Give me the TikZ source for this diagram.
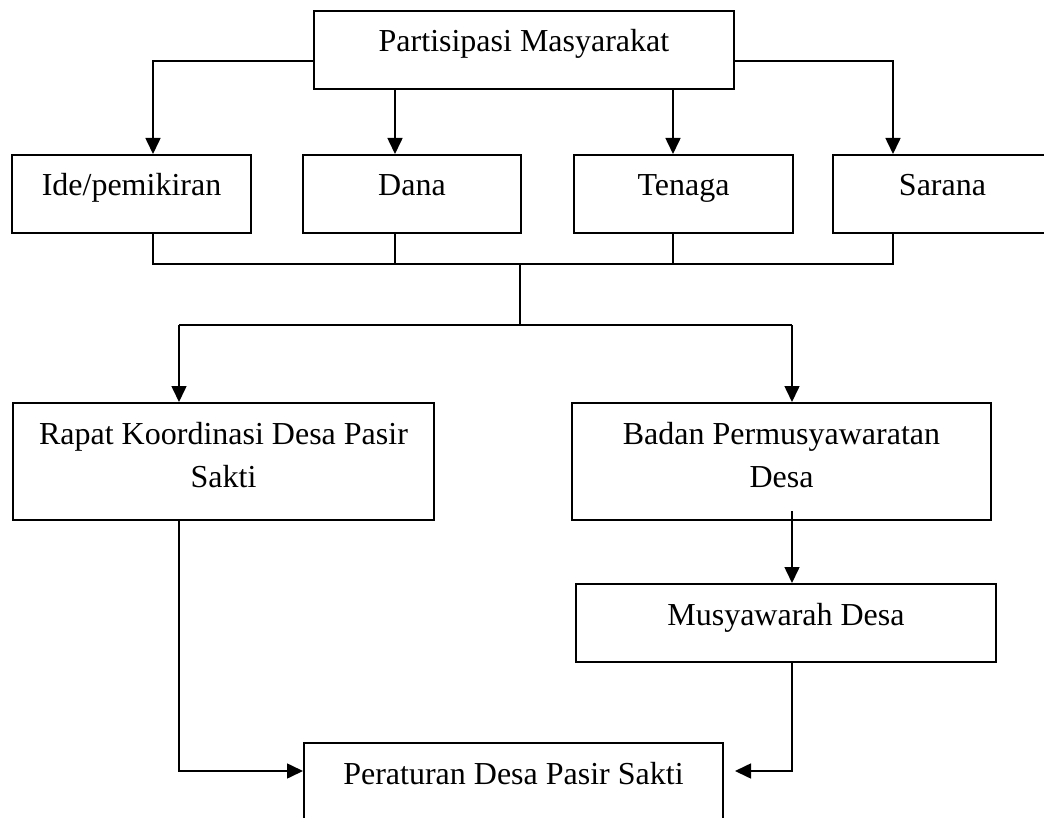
\documentclass[tikz,border=0pt]{standalone}
\usepackage{fontspec}
\setmainfont{Liberation Serif}
\usetikzlibrary{arrows.meta}

\begin{document}
\begin{tikzpicture}[
  x=0.5pt, y=-0.5pt, >={Triangle[length=8pt,width=7.5pt]},
  every node/.style={font=\fontsize{16}{21.5}\selectfont},
  box/.style 2 args={draw, line width=1pt, anchor=north west, inner sep=0pt,
    text width=#1, align=flush center, text height=20.5pt, text depth=#2},
  link/.style={line width=0.8pt}
]
  \clip (0,0) rectangle (1044,818);
  \node[box={210pt}{18.5pt}] (part) at (313,10) {Partisipasi Masyarakat};
  \node[box={119.5pt}{18.5pt}] (ide) at (11,154) {Ide/pemikiran};
  \node[box={109pt}{18.5pt}] (dana) at (302,154) {Dana};
  \node[box={109.5pt}{18.5pt}] (ten) at (573,154) {Tenaga};
  \node[box={109.5pt}{18.5pt}] (sar) at (832,154) {Sarana};
  \node[box={210.5pt}{38pt}] (rapat) at (12,402) {Rapat Koordinasi Desa Pasir\\Sakti};
  \node[box={209.5pt}{38pt}] (bpd) at (571,402) {Badan Permusyawaratan\\Desa};
  \node[box={210pt}{18.5pt}] (musdes) at (575,583) {Musyawarah Desa};
  \node[box={209.5pt}{19.5pt}] (perdes) at (303,742) {Peraturan Desa Pasir Sakti};

  \coordinate (tl) at (153,61);  \coordinate (tr) at (893,61);
  \coordinate (j1) at (153,264); \coordinate (j2) at (395,264);
  \coordinate (j3) at (673,264); \coordinate (j4) at (893,264);
  \coordinate (mid) at (520,264); \coordinate (split) at (520,325);
  \coordinate (kl) at (179,325); \coordinate (kr) at (792,325);
  \coordinate (pl) at (179,771); \coordinate (pr) at (792,771);

  \draw[link,->] (part.west |- tl) -- (tl) -- (tl |- ide.north);
  \draw[link,->] (part.east |- tr) -- (tr) -- (tr |- sar.north);
  \draw[link,->] (j2 |- part.south) -- (j2 |- dana.north);
  \draw[link,->] (j3 |- part.south) -- (j3 |- ten.north);
  \draw[link] (j1 |- ide.south) -- (j1) -- (j4) -- (j4 |- sar.south);
  \draw[link] (j2 |- dana.south) -- (j2);
  \draw[link] (j3 |- ten.south) -- (j3);
  \draw[link] (mid) -- (split);
  \draw[link] (kl) -- (kr);
  \draw[link,->] (kl) -- (kl |- rapat.north);
  \draw[link,->] (kr) -- (kr |- bpd.north);
  \draw[link,->] ([yshift=5pt]kr |- bpd.south) -- (kr |- musdes.north);
  \draw[link,->] (kl |- rapat.south) -- (pl) -- (perdes.west |- pl);
  \draw[link,->] (kr |- musdes.south) -- (pr) -- ([xshift=5.5pt]perdes.east |- pr);
\end{tikzpicture}
\end{document}
